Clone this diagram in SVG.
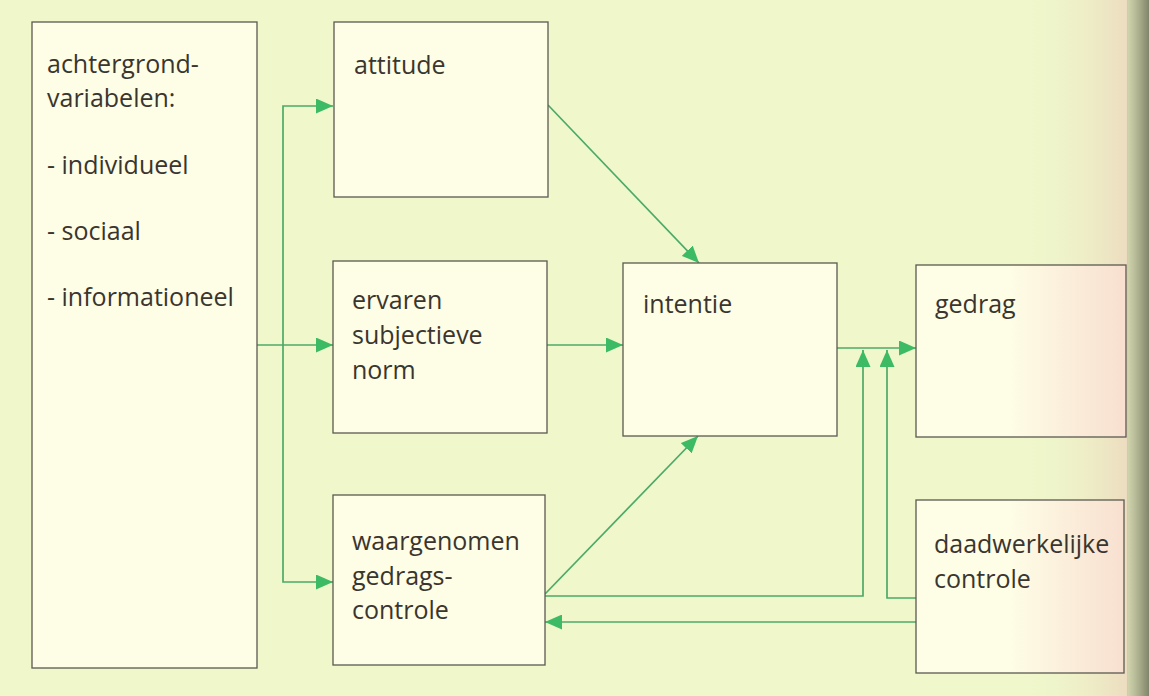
<svg xmlns="http://www.w3.org/2000/svg" width="1149" height="696" viewBox="0 0 1149 696">
  <defs>
    <style>
      .box { fill: #fefde6; stroke: #5a5a50; stroke-width: 1.3; }
      .rbox { fill: url(#boxtint); }
      .lbl { font-family: "Open Sans", "Noto Sans", sans-serif; font-size: 25px; fill: #3a352e; }
      .con { fill: none; stroke: #4caa68; stroke-width: 1.7; }
      .arr { marker-end: url(#ah); }
    </style>
    <marker id="ah" viewBox="0 0 17 15" refX="17" refY="7.5" markerWidth="17" markerHeight="15" markerUnits="userSpaceOnUse" orient="auto">
      <path d="M0,0 L17,7.5 L0,15 Z" fill="#3dba64"/>
    </marker>
    <linearGradient id="boxtint" gradientUnits="userSpaceOnUse" x1="1010" y1="0" x2="1126" y2="0">
      <stop offset="0" stop-color="#fefde6"/>
      <stop offset="1" stop-color="#f8dfcf"/>
    </linearGradient>
    <linearGradient id="bgtint" x1="0" y1="0" x2="1" y2="0">
      <stop offset="0" stop-color="#eff7cb" stop-opacity="0"/>
      <stop offset="1" stop-color="#ecd9be" stop-opacity="0.9"/>
    </linearGradient>
    <linearGradient id="gutter" x1="0" y1="0" x2="1" y2="0">
      <stop offset="0" stop-color="#c6c8a2" stop-opacity="0.7"/>
      <stop offset="1" stop-color="#7a7e64" stop-opacity="0.95"/>
    </linearGradient>
  </defs>

  <rect x="0" y="0" width="1149" height="696" fill="#eff7cb"/>
  <rect x="1020" y="0" width="108" height="696" fill="url(#bgtint)"/>

  <g id="connectors">
    <path class="con arr" d="M257,345 H333"/>
    <path class="con arr" d="M283,345 V106 H333"/>
    <path class="con arr" d="M283,345 V582 H333"/>
    <path class="con arr" d="M548,105 L699,263"/>
    <path class="con arr" d="M547,345 H623"/>
    <path class="con arr" d="M545,594 L698,436"/>
    <path class="con arr" d="M837,348 H916"/>
    <path class="con arr" d="M545,596 H863 V350"/>
    <path class="con arr" d="M916,598 H887 V350"/>
    <path class="con arr" d="M916,622 H545"/>
  </g>

  <g id="achtergrond">
    <rect class="box" x="32" y="22" width="225" height="646"/>
    <text class="lbl" x="47" y="73">achtergrond-</text>
    <text class="lbl" x="47" y="107">variabelen:</text>
    <text class="lbl" x="47" y="174">- individueel</text>
    <text class="lbl" x="47" y="240">- sociaal</text>
    <text class="lbl" x="47" y="306">- informationeel</text>
  </g>

  <g id="attitude">
    <rect class="box" x="334" y="22" width="214" height="175"/>
    <text class="lbl" x="354" y="74">attitude</text>
  </g>

  <g id="norm">
    <rect class="box" x="333" y="261" width="214" height="172"/>
    <text class="lbl" x="352" y="309">ervaren</text>
    <text class="lbl" x="352" y="344">subjectieve</text>
    <text class="lbl" x="352" y="379">norm</text>
  </g>

  <g id="waargenomen">
    <rect class="box" x="333" y="495" width="212" height="170"/>
    <text class="lbl" x="352" y="550">waargenomen</text>
    <text class="lbl" x="352" y="585">gedrags-</text>
    <text class="lbl" x="352" y="619">controle</text>
  </g>

  <g id="intentie">
    <rect class="box" x="623" y="263" width="214" height="173"/>
    <text class="lbl" x="643" y="313">intentie</text>
  </g>

  <g id="gedrag">
    <rect class="box rbox" x="916" y="265" width="210" height="172"/>
    <text class="lbl" x="935" y="313">gedrag</text>
  </g>

  <g id="daadwerkelijke">
    <rect class="box rbox" x="916" y="500" width="208" height="173"/>
    <text class="lbl" x="934" y="553">daadwerkelijke</text>
    <text class="lbl" x="934" y="588">controle</text>
  </g>

  <rect x="1127" y="0" width="22" height="696" fill="url(#gutter)"/>
</svg>
